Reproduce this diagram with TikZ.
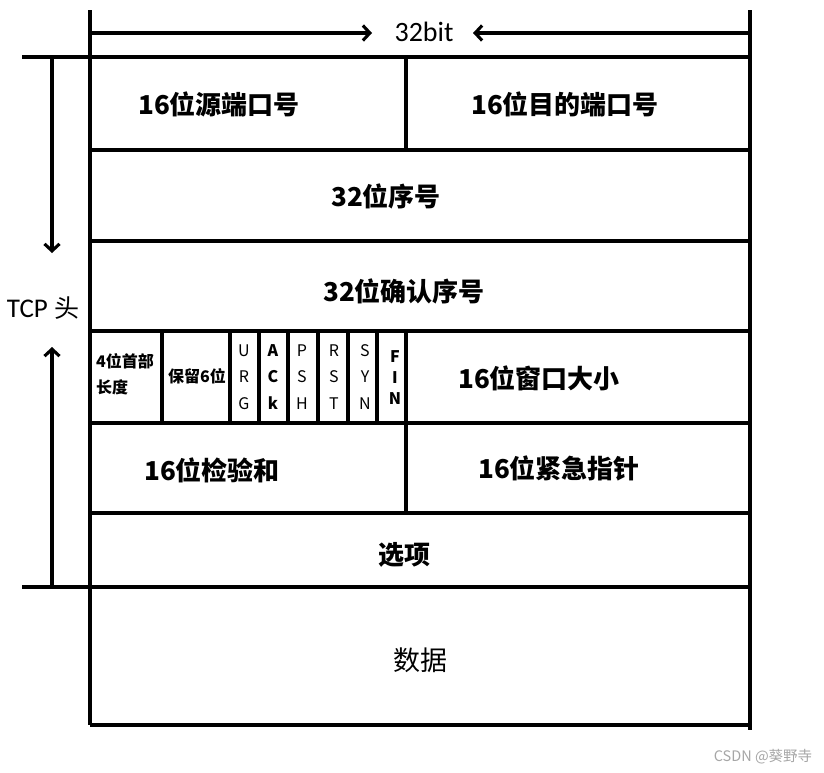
\documentclass[tikz,border=0pt]{standalone}
\usepackage{fontspec}
\setmainfont{Carlito}
\newfontfamily\cjk{Noto Sans CJK SC}
\usetikzlibrary{arrows.meta}
\tikzset{
  grid/.style={line width=3.1pt, black},
  flagline/.style={line width=4.2pt, black},
  arr/.style={line width=3.1pt, -{Straight Barb[length=7pt,width=15pt,line width=3.1pt]}},
  big/.style={font=\cjk\bfseries\fontsize{26}{28}\selectfont, inner sep=0pt},
  small/.style={font=\cjk\bfseries\fontsize{16}{18}\selectfont, inner sep=0pt},
  flag/.style={font=\cjk\fontsize{16}{26.5}\selectfont, inner sep=0pt, align=center},
  flagb/.style={font=\cjk\bfseries\fontsize{16}{26.5}\selectfont, inner sep=0pt, align=center},
}
\begin{document}
\begin{tikzpicture}[x=1pt,y=-1pt]
\useasboundingbox (0,0) rectangle (824,772);
% frame
\draw[grid] (90,10) -- (90,725);
\draw[grid] (750,10) -- (750,730);
\draw[grid] (22,57) -- (750,57);
\draw[grid] (90,150) -- (750,150);
\draw[grid] (90,241) -- (750,241);
\draw[grid] (90,331) -- (750,331);
\draw[grid] (90,423) -- (750,423);
\draw[grid] (90,513) -- (750,513);
\draw[grid] (22,587) -- (750,587);
\draw[grid] (90,725) -- (750,725);
\draw[line width=4.5pt] (660,725) -- (750,725);
\draw[grid] (406,57) -- (406,150);
\draw[grid] (406,331) -- (406,513);
% flag columns
\foreach \x in {162,230,259,288,318,348,377} \draw[flagline] (\x,331) -- (\x,423);
\draw[flagline] (182,423) -- (395,423);
% top 32bit
\node[font=\fontsize{28}{30}\selectfont, inner sep=2pt] (bits) at (424,32) {32bit};
\coordinate (tl) at (90,33);
\coordinate (tr) at (750,33);
\coordinate (al) at (372,33);
\coordinate (ar) at (473,33);
\draw[arr] (tl) -- (al);
\draw[arr] (tr) -- (ar);
% left TCP head
\node[font=\fontsize{27}{29}\selectfont, inner sep=0pt] (tcp) at (43,308) {TCP {\cjk\fontsize{25}{29}\selectfont 头}};
\coordinate (lt) at (52,57);
\coordinate (lb) at (52,587);
\coordinate (ld) at (52,253);
\coordinate (lu) at (52,347);
\draw[arr] (lt) -- (ld);
\draw[arr] (lb) -- (lu);
% texts
\node[big] (sp) at (219,104) {16位源端口号};
\node[big] (dp) at (565,104) {16位目的端口号};
\node[big] (seq) at (386,196) {32位序号};
\node[big] (ack) at (404,291) {32位确认序号};
\node[small, anchor=west] (hl1) at (96,361) {4位首部};
\node[small, anchor=west] (hl2) at (96,387) {长度};
\node[small] (res) at (197,376) {保留6位};
\node[flag] (urg) at (244,377) {U\\R\\G};
\node[flagb] (ackf) at (273,377) {A\\C\\k};
\node[flag] (psh) at (302,377) {P\\S\\H};
\node[flag] (rst) at (334,377) {R\\S\\T};
\node[flag] (syn) at (365,377) {S\\Y\\N};
\node[font=\cjk\bfseries\fontsize{16}{21}\selectfont, inner sep=0pt, align=center] (fin) at (395,378) {F\\I\\N};
\node[big] (win) at (539,378) {16位窗口大小};
\node[big] (chk) at (212,470) {16位检验和};
\node[big] (urgp) at (559,468) {16位紧急指针};
\node[big] (opt) at (404,555) {选项};
\node[font=\cjk\fontsize{27}{29}\selectfont, inner sep=0pt] (data) at (420,660) {数据};
\node[font=\cjk\fontsize{14.5}{16}\selectfont, text=black!35, inner sep=0pt] (wm) at (763,757) {CSDN @葵野寺};
\end{tikzpicture}
\end{document}
